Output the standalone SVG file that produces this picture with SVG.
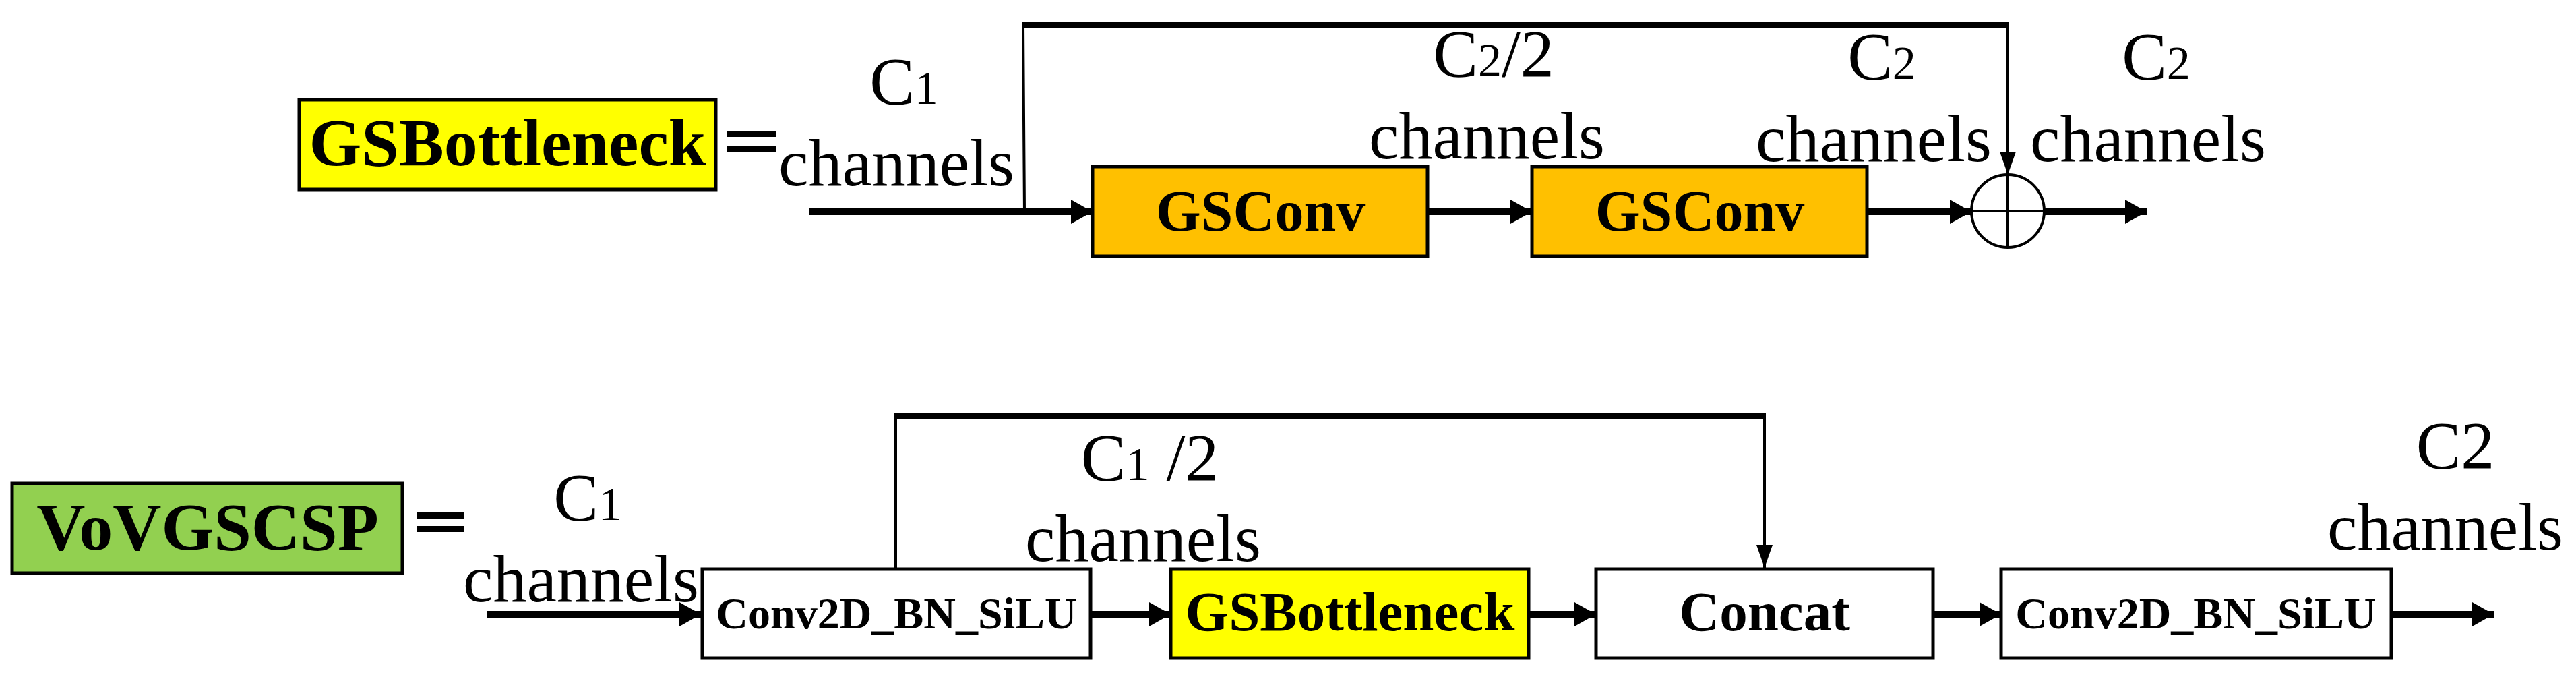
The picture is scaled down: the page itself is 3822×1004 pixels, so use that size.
<svg xmlns="http://www.w3.org/2000/svg" width="3822" height="1004" viewBox="0 0 3822 1004">
<style>
text{font-family:"Liberation Serif","Times New Roman",serif;fill:#000}
.lbl{font-size:100px;text-anchor:middle}
.sub{font-size:70px}
.b{font-weight:bold;text-anchor:middle}
.box{stroke:#000;stroke-width:5}
.thick{stroke:#000;stroke-width:10;fill:none}
.thin{stroke:#000;stroke-width:4;fill:none}
</style>
<defs>
<marker id="ah" markerUnits="userSpaceOnUse" markerWidth="32" markerHeight="36" refX="32" refY="18" orient="auto"><path d="M0,0 L32,18 L0,36 Z" fill="#000"/></marker>
<marker id="av" markerUnits="userSpaceOnUse" markerWidth="34" markerHeight="24" refX="34" refY="12" orient="auto"><path d="M0,0 L34,12 L0,24 Z" fill="#000"/></marker>
</defs>
<g id="title1"><rect x="444" y="148" width="618" height="133" fill="#FFFF00" class="box"/><text x="753" y="245" class="b" font-size="100">GSBottleneck</text></g>
<g id="eq1"><rect x="1079" y="195" width="73" height="8"/><rect x="1079" y="217" width="73" height="9"/></g>
<g id="gsconv1"><rect x="1621" y="247" width="497" height="133" fill="#FFC000" class="box"/><text x="1870" y="342" class="b" font-size="86">GSConv</text></g>
<g id="gsconv2"><rect x="2273" y="247" width="497" height="133" fill="#FFC000" class="box"/><text x="2522" y="342" class="b" font-size="86">GSConv</text></g>
<g id="add"><circle cx="2979" cy="313" r="54" fill="#fff" class="thin"/><line x1="2979" y1="259" x2="2979" y2="367" class="thin"/><line x1="2925" y1="313" x2="3033" y2="313" class="thin"/></g>
<g id="labels1">
<text x="1341" y="154" class="lbl">C<tspan class="sub">1</tspan></text>
<text x="1330" y="275" class="lbl">channels</text>
<text x="2216" y="113" class="lbl">C<tspan class="sub">2</tspan>/2</text>
<text x="2206" y="235" class="lbl">channels</text>
<text x="2792" y="117" class="lbl">C<tspan class="sub">2</tspan></text>
<text x="2780" y="239" class="lbl">channels</text>
<text x="3199" y="117" class="lbl">C<tspan class="sub">2</tspan></text>
<text x="3187" y="239" class="lbl">channels</text>
</g>
<g id="title2"><rect x="18" y="717" width="579" height="133" fill="#92D050" class="box"/><text x="308" y="815" class="b" font-size="100">VoVGSCSP</text></g>
<g id="eq2"><rect x="618" y="759" width="71" height="10"/><rect x="618" y="780" width="71" height="9"/></g>
<g id="conv1"><rect x="1042" y="844" width="576" height="132" fill="#fff" class="box"/><text x="1330" y="932" class="b" font-size="66">Conv2D_BN_SiLU</text></g>
<g id="gsb"><rect x="1737" y="844" width="531" height="132" fill="#FFFF00" class="box"/><text x="2003" y="935" class="b" font-size="83">GSBottleneck</text></g>
<g id="concat"><rect x="2368" y="844" width="500" height="132" fill="#fff" class="box"/><text x="2618" y="935" class="b" font-size="83">Concat</text></g>
<g id="conv2"><rect x="2969" y="844" width="579" height="132" fill="#fff" class="box"/><text x="3258" y="932" class="b" font-size="66">Conv2D_BN_SiLU</text></g>
<g id="labels2">
<text x="872" y="771" class="lbl">C<tspan class="sub">1</tspan></text>
<text x="862" y="892" class="lbl">channels</text>
<text x="1706" y="712" class="lbl">C<tspan class="sub">1</tspan> /2</text>
<text x="1696" y="832" class="lbl">channels</text>
<text x="3643" y="694" class="lbl">C2</text>
<text x="3628" y="815" class="lbl">channels</text>
</g>
<g id="connectors">
<line x1="1201" y1="314" x2="1621" y2="314" class="thick" marker-end="url(#ah)"/>
<polyline points="1520,314 1518,37 2979,37 2979,259" class="thin" marker-end="url(#av)"/>
<line x1="1516" y1="37" x2="2981" y2="37" class="thick"/>
<line x1="2118" y1="314" x2="2273" y2="314" class="thick" marker-end="url(#ah)"/>
<line x1="2770" y1="314" x2="2925" y2="314" class="thick" marker-end="url(#ah)"/>
<line x1="3033" y1="314" x2="3185" y2="314" class="thick" marker-end="url(#ah)"/>
<line x1="723" y1="911" x2="1040" y2="911" class="thick" marker-end="url(#ah)"/>
<polyline points="1329,844 1329,617 2618,617 2618,842" class="thin" marker-end="url(#av)"/>
<line x1="1327" y1="617" x2="2620" y2="617" class="thick"/>
<line x1="1618" y1="911" x2="1737" y2="911" class="thick" marker-end="url(#ah)"/>
<line x1="2268" y1="911" x2="2368" y2="911" class="thick" marker-end="url(#ah)"/>
<line x1="2868" y1="911" x2="2969" y2="911" class="thick" marker-end="url(#ah)"/>
<line x1="3548" y1="911" x2="3700" y2="911" class="thick" marker-end="url(#ah)"/>
</g>
</svg>
